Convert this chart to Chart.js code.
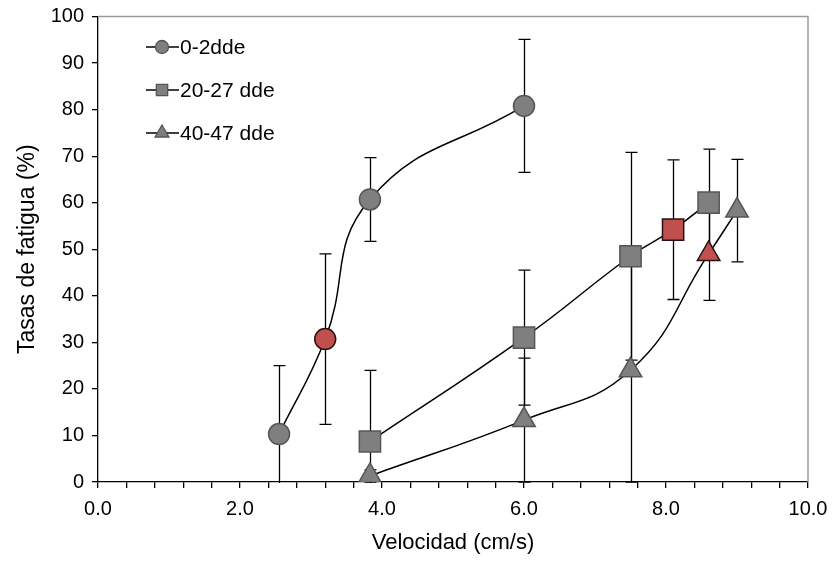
<!DOCTYPE html>
<html lang="es">
<head>
    <meta charset="UTF-8">
    <title>Tasas de fatigua vs velocidad</title>
    <style>
        body { margin: 0; padding: 0; background: #fff; }
        #wrap { width: 833px; height: 565px; }
    </style>
</head>
<body>
    <div id="wrap"><canvas id="fatigueChart"></canvas></div>
    <script src="https://cdn.jsdelivr.net/npm/chart.js"></script>
    <script>
        // Data
        const seriesLabels = ['0-2dde', '20-27 dde', '40-47 dde'];

        const xDay0 = [2.55, 3.2, 3.83, 6.0];
        const yDay0 = [10.3, 30.7, 60.7, 80.8];
        const errDay0 = [14.7, 18.3, 9.0, 14.3];

        const xDay20 = [3.83, 6.0, 7.5, 8.1, 8.6];
        const yDay20 = [8.7, 31.0, 48.5, 54.2, 60.0];
        const errDay20 = [15.3, 14.5, 22.3, 15.0, 11.5];

        const xDay40 = [3.83, 6.0, 7.5, 8.6, 9.0];
        const yDay40 = [1.3, 13.3, 24.0, 49.0, 58.3];
        const errDay40 = [1.3, 13.3, 24.0, 10.0, 11.0];

        // index of the red (highlighted) point in each series
        const redPoint = [1, 3, 3];

        const xTicksMajor = [0, 2, 4, 6, 8, 10];

        const GREY = '#7f7f7f';
        const GREY_EDGE = '#555555';
        const RED = '#c0504d';
        const RED_EDGE = '#2b1010';
        const FONT = '"Liberation Sans", Arial, sans-serif';

        function toPoints(xs, ys) {
            return xs.map((x, i) => ({ x: x, y: ys[i] }));
        }

        function makeSet(i, xs, ys, style, radius) {
            const n = xs.length;
            return {
                label: seriesLabels[i],
                data: toPoints(xs, ys),
                borderColor: '#000',
                borderWidth: 1.5,
                tension: 0.45,
                pointStyle: style,
                pointRadius: radius,
                pointHoverRadius: radius,
                pointBorderWidth: 1.5,
                pointBackgroundColor: Array.from({ length: n }, (_, k) => k === redPoint[i] ? RED : GREY),
                pointBorderColor: Array.from({ length: n }, (_, k) => k === redPoint[i] ? RED_EDGE : GREY_EDGE),
                errors: [errDay0, errDay20, errDay40][i]
            };
        }

        // error bars behind the markers
        const errorBars = {
            id: 'errorBars',
            beforeDatasetsDraw(chart) {
                const ctx = chart.ctx;
                const xs = chart.scales.x, ys = chart.scales.y;
                const area = chart.chartArea;
                ctx.save();
                ctx.beginPath();
                ctx.rect(area.left, area.top, area.right - area.left, area.bottom - area.top + 1);
                ctx.clip();
                ctx.strokeStyle = '#000';
                ctx.lineWidth = 1.3;
                chart.data.datasets.forEach(ds => {
                    ds.data.forEach((p, k) => {
                        const e = ds.errors[k];
                        const px = Math.round(xs.getPixelForValue(p.x)) + 0.5;
                        const top = ys.getPixelForValue(p.y + e);
                        const bot = ys.getPixelForValue(p.y - e);
                        ctx.beginPath();
                        ctx.moveTo(px, top);
                        ctx.lineTo(px, bot);
                        ctx.moveTo(px - 6, top);
                        ctx.lineTo(px + 6, top);
                        ctx.moveTo(px - 6, bot);
                        ctx.lineTo(px + 6, bot);
                        ctx.stroke();
                    });
                });
                ctx.restore();
            }
        };

        // grey frame on top/right and legend inside plot
        const frameAndLegend = {
            id: 'frameAndLegend',
            afterDraw(chart) {
                const ctx = chart.ctx;
                const a = chart.chartArea;
                ctx.save();
                ctx.strokeStyle = '#9a9a9a';
                ctx.lineWidth = 1.5;
                ctx.beginPath();
                ctx.moveTo(a.left, a.top);
                ctx.lineTo(a.right, a.top);
                ctx.lineTo(a.right, a.bottom);
                ctx.stroke();

                const styles = ['circle', 'rect', 'triangle'];
                const radii = [6.5, 8, 8];
                chart.data.datasets.forEach((ds, i) => {
                    const y = 47 + i * 43;
                    ctx.strokeStyle = '#000';
                    ctx.lineWidth = 1.3;
                    ctx.beginPath();
                    ctx.moveTo(146, y);
                    ctx.lineTo(179, y);
                    ctx.stroke();
                    ctx.fillStyle = GREY;
                    ctx.strokeStyle = GREY_EDGE;
                    Chart.helpers.drawPoint(ctx, {
                        pointStyle: styles[i], radius: radii[i], borderWidth: 1.3, rotation: 0
                    }, 162, y);
                    ctx.fillStyle = '#000';
                    ctx.font = '21px ' + FONT;
                    ctx.textBaseline = 'middle';
                    ctx.textAlign = 'left';
                    ctx.fillText(ds.label, 180, y + 1);
                });
                ctx.restore();
            }
        };

        const tickFont = { family: FONT, size: 20 };

        new Chart(document.getElementById('fatigueChart'), {
            type: 'line',
            data: {
                datasets: [
                    makeSet(0, xDay0, yDay0, 'circle', 10.5),
                    makeSet(1, xDay20, yDay20, 'rect', 15),
                    makeSet(2, xDay40, yDay40, 'triangle', 13)
                ]
            },
            options: {
                responsive: true,
                maintainAspectRatio: false,
                animation: false,
                layout: { padding: { left: 0, top: 16, right: 25, bottom: 0 } },
                plugins: {
                    legend: { display: false },
                    tooltip: { enabled: false }
                },
                scales: {
                    x: {
                        type: 'linear',
                        min: 0,
                        max: 10,
                        afterFit(scale) {
                            scale.height = 83;
                            scale.paddingLeft = 0;
                            scale.paddingRight = 0;
                        },
                        border: { display: true, color: '#000', width: 1.3 },
                        grid: { display: true, drawOnChartArea: false, drawTicks: true, tickLength: 6, color: '#000', lineWidth: 1.3 },
                        ticks: {
                            stepSize: 0.4,
                            autoSkip: false,
                            maxRotation: 0,
                            padding: 9,
                            color: '#000',
                            font: tickFont,
                            callback(v) {
                                const hit = xTicksMajor.some(m => Math.abs(m - v) < 1e-6);
                                return hit ? Number(v).toFixed(1) : '';
                            }
                        },
                        title: { display: true, text: 'Velocidad (cm/s)', color: '#000', font: { family: FONT, size: 22 }, padding: { top: 4, bottom: 9 } }
                    },
                    y: {
                        min: 0,
                        max: 100,
                        afterFit(scale) {
                            scale.width = 98;
                            scale.paddingTop = 0;
                            scale.paddingBottom = 0;
                        },
                        border: { display: true, color: '#000', width: 1.3 },
                        grid: { display: true, drawOnChartArea: false, drawTicks: true, tickLength: 6, color: '#000', lineWidth: 1.3 },
                        ticks: {
                            stepSize: 10,
                            padding: 8,
                            color: '#000',
                            font: tickFont
                        },
                        title: { display: true, text: 'Tasas de fatigua (%)', color: '#000', font: { family: FONT, size: 23 }, padding: { top: 14, bottom: 0 } }
                    }
                }
            },
            plugins: [errorBars, frameAndLegend]
        });
    </script>
</body>
</html>
